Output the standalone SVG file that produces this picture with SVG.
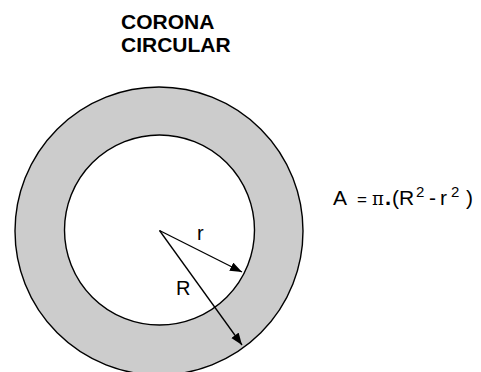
<svg xmlns="http://www.w3.org/2000/svg" width="481" height="372" viewBox="0 0 481 372">
<style>
  .ring { stroke: #000; stroke-width: 1.4; }
  .t { font-family: "Liberation Sans", Arial, sans-serif; fill: #000; }
  .title { font-weight: bold; font-size: 21px; }
  .conn line { stroke: #000; stroke-width: 1.3; }
</style>
<defs>
  <marker id="arr" markerUnits="userSpaceOnUse" markerWidth="13" markerHeight="10" refX="12" refY="4.5" orient="auto">
    <path d="M0,0 L12,4.5 L0,9 z" fill="#000"/>
  </marker>
</defs>
<rect width="481" height="372" fill="#fff"/>
<g id="title">
  <text class="t title" x="121" y="29">CORONA</text>
  <text class="t title" x="121" y="52">CIRCULAR</text>
</g>
<g id="outer-circle">
  <circle class="ring" cx="159" cy="231" r="144" fill="#cccccc"/>
</g>
<g id="inner-circle">
  <circle class="ring" cx="159.5" cy="230" r="95" fill="#ffffff"/>
</g>
<g id="connectors" class="conn">
  <line x1="159.5" y1="230.5" x2="242" y2="272" marker-end="url(#arr)"/>
  <line x1="159.5" y1="230.5" x2="242" y2="345" marker-end="url(#arr)"/>
</g>
<g id="labels">
  <text class="t" x="197" y="240" font-size="20">r</text>
  <text class="t" x="176" y="295" font-size="20">R</text>
</g>
<g id="formula">
  <text class="t" y="205" font-size="21">
    <tspan x="333">A</tspan><tspan x="357" font-size="17">=</tspan><tspan x="372" font-family="'DejaVu Serif', serif" font-size="18">π</tspan><tspan x="385" font-weight="bold" font-size="22">.</tspan><tspan x="392">(R</tspan><tspan x="416" y="197" font-size="15">2</tspan><tspan x="429" y="205">-</tspan><tspan x="440">r</tspan><tspan x="451" y="197" font-size="15">2</tspan><tspan x="466" y="205">)</tspan>
  </text>
</g>
</svg>
